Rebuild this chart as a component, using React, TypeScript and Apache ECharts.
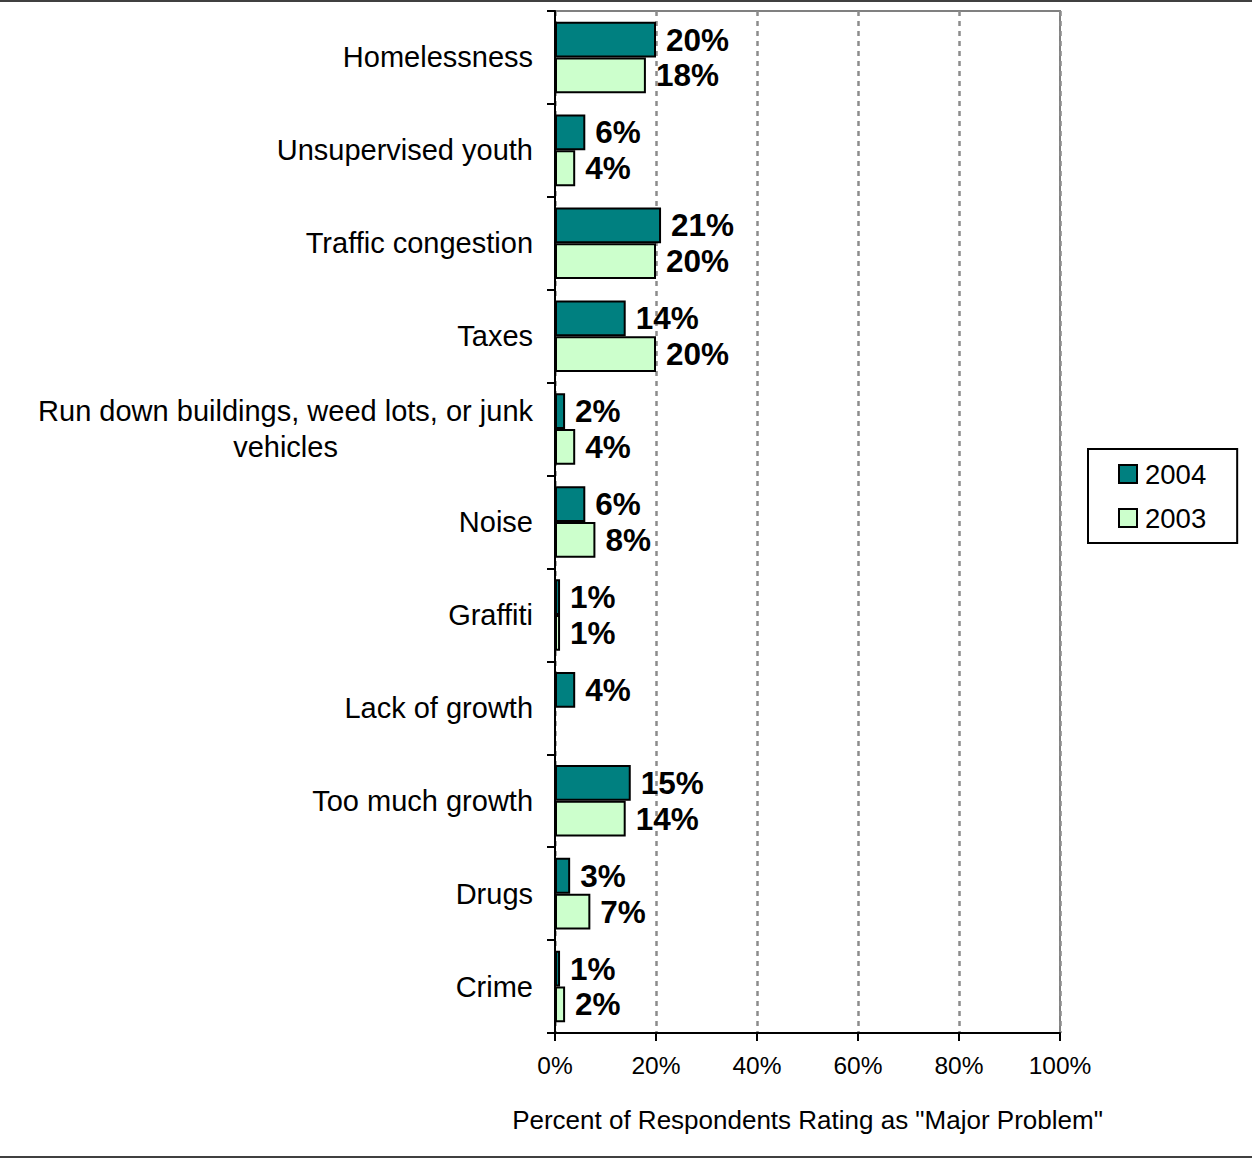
import React, { useEffect, useRef } from "react";
import * as echarts from "echarts";

const categories = [
  "Homelessness",
  "Unsupervised youth",
  "Traffic congestion",
  "Taxes",
  "Run down buildings, weed lots, or junk\nvehicles",
  "Noise",
  "Graffiti",
  "Lack of growth",
  "Too much growth",
  "Drugs",
  "Crime",
];
const values2004 = [20, 6, 21, 14, 2, 6, 1, 4, 15, 3, 1];
const values2003: (number | null)[] = [18, 4, 20, 20, 4, 8, 1, null, 14, 7, 2];
const xTicks = [0, 20, 40, 60, 80, 100];
const axisTitle = 'Percent of Respondents Rating as "Major Problem"';

const FONT = "Arial, 'Liberation Sans', Helvetica, sans-serif";

export default function App() {
  const ref = useRef<HTMLDivElement>(null);
  useEffect(() => {
    if (!ref.current) return;
    const chart = echarts.init(ref.current, null, { renderer: "svg" });
    const labelStyle = {
      show: true,
      position: "right" as const,
      distance: 10,
      fontSize: 31.5,
      fontWeight: "bold" as const,
      color: "#000",
      fontFamily: FONT,
      formatter: "{c}%",
    };
    chart.setOption({
      animation: false,
      textStyle: { fontFamily: FONT },
      grid: {
        left: 555,
        right: 192,
        top: 11,
        bottom: 126,
        show: true,
        borderColor: "#808080",
        borderWidth: 2,
        backgroundColor: "transparent",
      },
      legend: {
        orient: "vertical",
        left: 1088,
        top: 449,
        padding: [11, 31, 11, 30],
        itemWidth: 18,
        itemHeight: 18,
        itemGap: 16,
        borderColor: "#000",
        borderWidth: 2,
        icon: "rect",
        data: ["2004", "2003"],
        textStyle: {
          fontSize: 27.5,
          color: "#000",
          fontFamily: FONT,
          lineHeight: 26,
          padding: [0, 0, 0, 3],
        },
      },
      xAxis: {
        type: "value",
        min: xTicks[0],
        max: xTicks[xTicks.length - 1],
        interval: xTicks[1] - xTicks[0],
        axisLine: { show: true, lineStyle: { color: "#000", width: 2 } },
        axisTick: { show: true, length: 8, lineStyle: { color: "#000", width: 2 } },
        axisLabel: {
          fontSize: 24.5,
          color: "#000",
          margin: 20,
          fontFamily: FONT,
          formatter: "{value}%",
        },
        splitLine: {
          show: true,
          lineStyle: { color: "#8c8c8c", width: 2.5, type: [5, 5] },
        },
        name: axisTitle,
        nameLocation: "middle",
        nameGap: 74,
        nameTextStyle: { fontSize: 26, color: "#000", fontFamily: FONT },
      },
      yAxis: {
        type: "category",
        data: categories,
        inverse: true,
        axisLine: { show: true, lineStyle: { color: "#000", width: 2 } },
        axisTick: { show: true, length: 8, lineStyle: { color: "#000", width: 2 } },
        axisLabel: {
          margin: 22,
          formatter: (v: string) =>
            v
              .split("\n")
              .map((l) => "{c|" + l + "}")
              .join("\n"),
          rich: {
            c: {
              fontSize: 29,
              color: "#000",
              fontFamily: FONT,
              align: "center",
              lineHeight: 36,
            },
          },
        },
        splitLine: { show: false },
      },
      series: [
        {
          name: "2004",
          type: "bar",
          data: values2004,
          barGap: "0%",
          barCategoryGap: "23%",
          itemStyle: { color: "#008080", borderColor: "#000", borderWidth: 2 },
          label: labelStyle,
        },
        {
          name: "2003",
          type: "bar",
          data: values2003,
          barGap: "0%",
          barCategoryGap: "23%",
          itemStyle: { color: "#CCFFCC", borderColor: "#000", borderWidth: 2 },
          label: labelStyle,
        },
      ],
      graphic: [
        {
          type: "rect",
          shape: { x: 0, y: 0, width: 1252, height: 2 },
          style: { fill: "#404040" },
          silent: true,
        },
        {
          type: "rect",
          shape: { x: 0, y: 1156, width: 1252, height: 2 },
          style: { fill: "#404040" },
          silent: true,
        },
      ],
    });
    return () => chart.dispose();
  }, []);
  return (
    <div
      ref={ref}
      style={{ position: "absolute", left: 0, top: 0, width: 1252, height: 1159, background: "#fff" }}
    />
  );
}
